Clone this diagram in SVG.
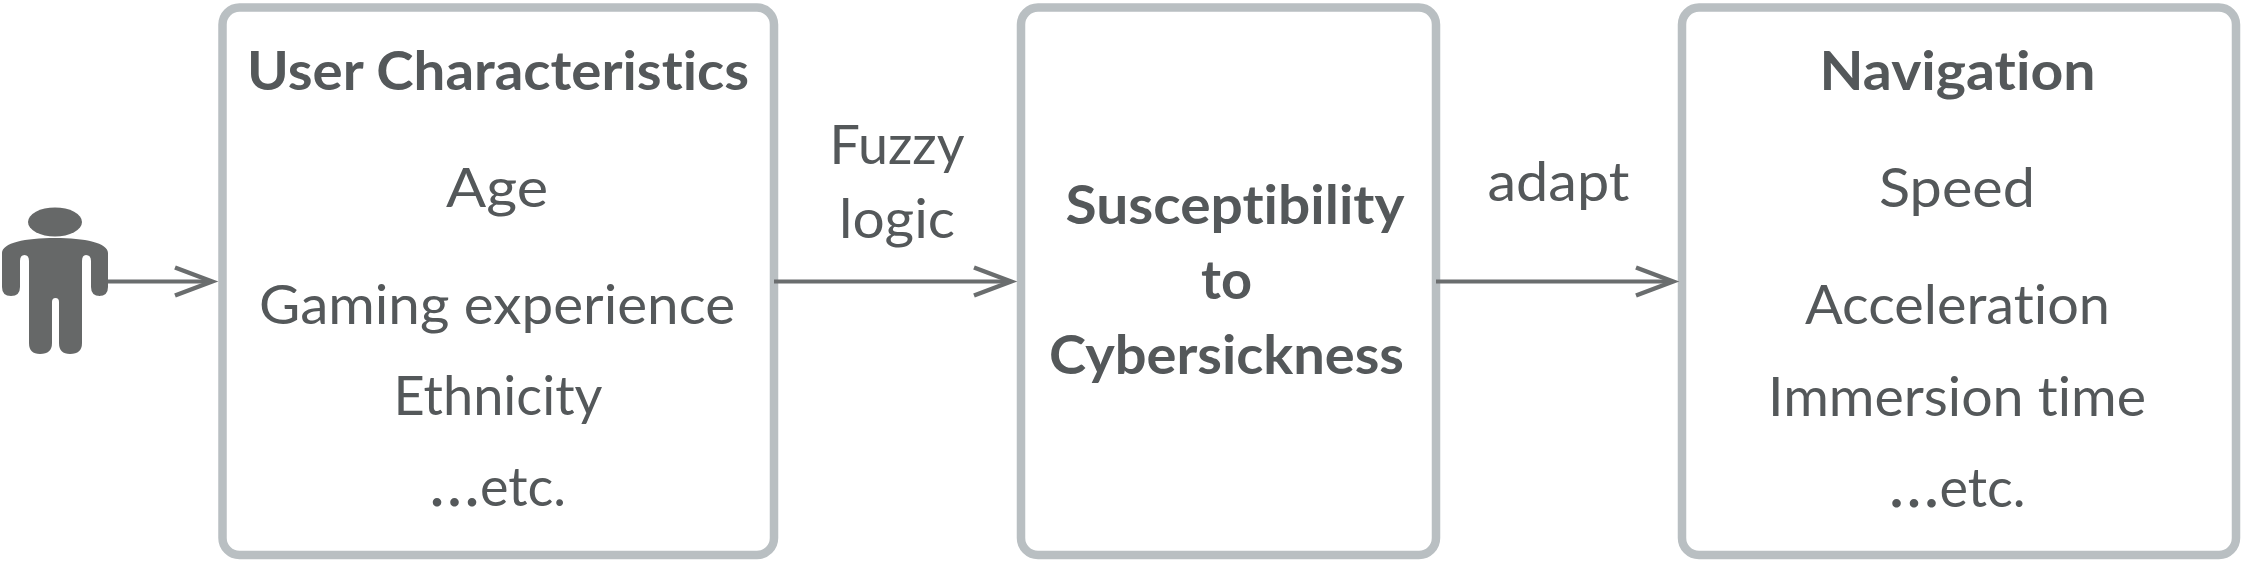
<svg xmlns="http://www.w3.org/2000/svg" width="2241" height="562" viewBox="0 0 2241 562">
<style>
.b{fill:#fff;stroke:#b9bfc2;stroke-width:8.5}
text{font-family:"Lato","Noto Sans",sans-serif;fill:#54585a;font-size:54px;text-anchor:middle;font-variant-ligatures:none}
.h{font-weight:700}
.d{font-size:68px}
.c{fill:none;stroke:#6a6d6e;stroke-width:4}
.a{fill:none;stroke:#6a6d6e;stroke-width:4.5}
.p{fill:#666868}
</style>
<rect width="2241" height="562" fill="#fff"/>
<g id="user"><ellipse class="p" cx="55" cy="222" rx="27" ry="14.5"/>
<path class="p" d="M2 253C2 243 25 238 55 238C85 238 108 243 108 253V287Q108 296 99 296H100Q91 296 91 287V261Q91 255 86 255Q82 255 82 261V343Q82 354 70 354Q59 354 59 343V302Q59 298 55.500 298Q52 298 52 302V343Q52 354 40 354Q29 354 29 343V261Q29 255 24.500 255Q20 255 20 261V287Q20 296 11 296H11Q2 296 2 287Z"/></g>
<g id="user-characteristics"><rect class="b" x="222.500" y="7.500" width="551.500" height="547.500" rx="17"/>
<text class="h" x="498" y="90" textLength="502" lengthAdjust="spacingAndGlyphs">User Characteristics</text>
<text x="497" y="207" textLength="102" lengthAdjust="spacingAndGlyphs">Age</text>
<text x="497" y="324" textLength="476" lengthAdjust="spacingAndGlyphs">Gaming experience</text>
<text x="498" y="415" textLength="209" lengthAdjust="spacingAndGlyphs">Ethnicity</text>
<text x="497.500" y="506"><tspan class="d">…</tspan>etc.</text></g>
<g id="susceptibility"><rect class="b" x="1021" y="7.500" width="415" height="547.500" rx="17"/>
<text class="h" x="1235" y="224" textLength="339" lengthAdjust="spacingAndGlyphs">Susceptibility</text>
<text class="h" x="1226.500" y="298.500" textLength="51" lengthAdjust="spacingAndGlyphs">to</text>
<text class="h" x="1226.500" y="374" textLength="355" lengthAdjust="spacingAndGlyphs">Cybersickness</text></g>
<g id="navigation"><rect class="b" x="1682" y="7.500" width="554" height="547.500" rx="17"/>
<text class="h" x="1957.500" y="90" textLength="276" lengthAdjust="spacingAndGlyphs">Navigation</text>
<text x="1957" y="207" textLength="156" lengthAdjust="spacingAndGlyphs">Speed</text>
<text x="1957.500" y="323.500" textLength="305" lengthAdjust="spacingAndGlyphs">Acceleration</text>
<text x="1957" y="415.500" textLength="378" lengthAdjust="spacingAndGlyphs">Immersion time</text>
<text x="1957" y="507"><tspan class="d">…</tspan>etc.</text></g>
<g id="labels">
<text x="897" y="164" textLength="135" lengthAdjust="spacingAndGlyphs">Fuzzy</text><text x="897" y="238" textLength="116" lengthAdjust="spacingAndGlyphs">logic</text>
<text x="1558.500" y="200.500" textLength="142" lengthAdjust="spacingAndGlyphs">adapt</text></g>
<g id="connectors">
<path class="c" d="M108 281.500H211"/><path class="a" d="M175 267.500L212 281.500L175 295.500"/>
<path class="c" d="M774 281.500H1009"/><path class="a" d="M974 267.500L1011 281.500L974 295.500"/>
<path class="c" d="M1436 281.500H1671"/><path class="a" d="M1636 267.500L1673 281.500L1636 295.500"/>
</g>
</svg>
